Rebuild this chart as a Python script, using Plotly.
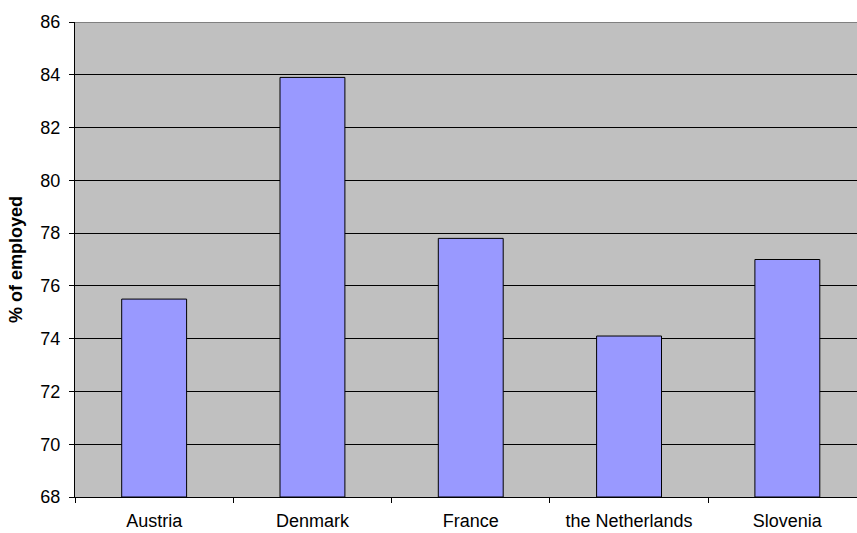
import plotly.graph_objects as go

categories = ["Austria", "Denmark", "France", "the Netherlands", "Slovenia"]
values = [75.5, 83.9, 77.8, 74.1, 77.0]
y_ticks = [68, 70, 72, 74, 76, 78, 80, 82, 84, 86]
y_base = 68

fig = go.Figure()
fig.add_trace(go.Bar(
    x=categories, y=[v - y_base for v in values], base=y_base,
    marker=dict(color="#9999FF", line=dict(color="#000000", width=1)),
    width=0.41,
))

fig.update_layout(
    width=857, height=533, autosize=False,
    margin=dict(l=75, r=0, t=22, b=36),
    paper_bgcolor="white", plot_bgcolor="#C0C0C0",
    showlegend=False,
    font=dict(family="Liberation Sans, Arial, sans-serif", size=18, color="#000000"),
)
fig.update_xaxes(
    range=[-0.5, 4.44], showgrid=False, automargin=False,
    showline=True, linecolor="#000000", linewidth=1.2,
    ticks="outside", ticklen=5, tickcolor="#000000", tickson="boundaries",
    tickfont=dict(size=18), ticklabelstandoff=7,
)
fig.update_yaxes(
    range=[68, 86], tickvals=y_ticks, ticktext=[str(t) for t in y_ticks],
    showgrid=True, gridcolor="#000000", gridwidth=1, automargin=False,
    showline=True, linecolor="#000000", linewidth=1.2,
    ticks="outside", ticklen=5, tickcolor="#000000",
    tickfont=dict(size=18), ticklabelstandoff=5,
    title=dict(text="<b>% of employed</b>", font=dict(size=18), standoff=12),
    zeroline=False,
)
fig.add_shape(type="line", xref="paper", yref="y", x0=0, x1=1, y0=86, y1=86,
              line=dict(color="#808080", width=2))
fig.write_html("out.html", config={"displayModeBar": False},
               post_script="document.body.style.margin='0';")
